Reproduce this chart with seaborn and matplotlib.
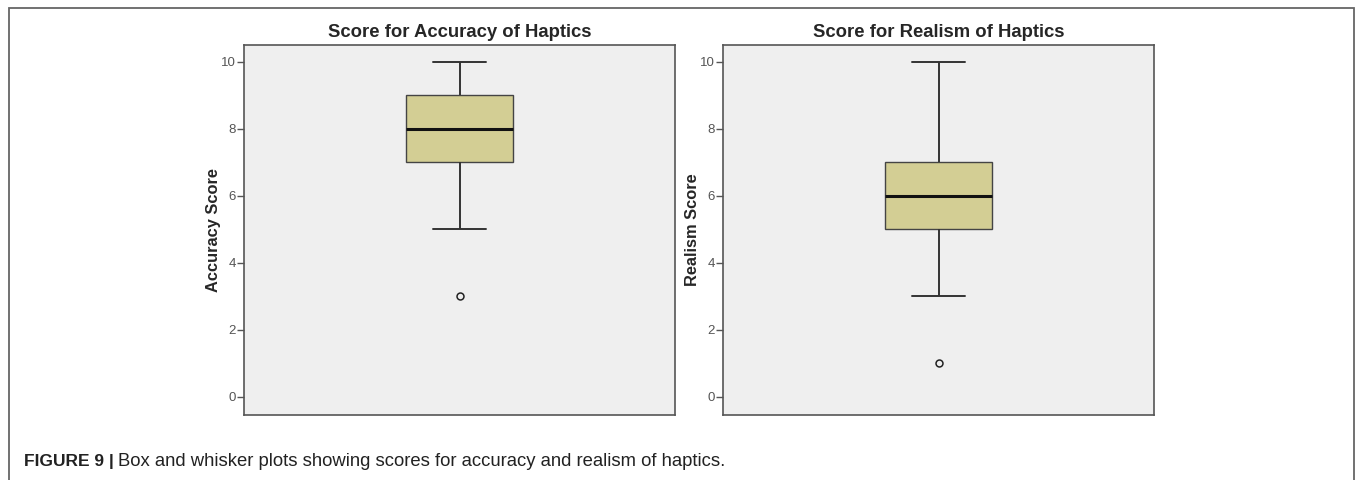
import matplotlib.pyplot as plt
import matplotlib.patches as mpatches
import seaborn as sns
import pandas as pd

# Individual scores (chosen so the box statistics match the figure)
accuracy_scores = [3, 5, 6, 7, 7, 7, 8, 8, 8, 8, 9, 9, 9, 10, 10]
realism_scores = [1, 3, 4, 5, 5, 5, 6, 6, 6, 6, 7, 7, 7, 8, 10]

titles = ["Score for Accuracy of Haptics", "Score for Realism of Haptics"]
ylabels = ["Accuracy Score", "Realism Score"]
yticks = [0, 2, 4, 6, 8, 10]

sns.set_style("white")
plt.rcParams['font.family'] = ['Liberation Sans', 'DejaVu Sans']

W, H = 1355, 480
fig = plt.figure(figsize=(13.55, 4.8), dpi=100)

# outer frame around the figure panel
frame = mpatches.Rectangle((9 / W, -0.2), (1354 - 9) / W, 1.2 - 8 / H,
                           transform=fig.transFigure, fill=False,
                           edgecolor='#666666', linewidth=1.3, clip_on=False)
fig.patches.append(frame)

positions = [244, 723]
datasets = [accuracy_scores, realism_scores]

for left_px, scores, title, ylab in zip(positions, datasets, titles, ylabels):
    ax = fig.add_axes([left_px / W, 1 - 415 / H, 431 / W, 370 / H])
    df = pd.DataFrame({'score': scores})
    sns.boxplot(data=df, y='score', ax=ax, width=0.25, whis=1.5,
                color='#D3CE94', linecolor='#333333', linewidth=1.4,
                fliersize=5,
                flierprops=dict(marker='o', markerfacecolor='none',
                                markeredgecolor='#222222', markeredgewidth=1.1),
                medianprops=dict(color='#111111', linewidth=2.2),
                boxprops=dict(edgecolor='#444444', linewidth=1.0),
                saturation=1)
    ax.set_facecolor('#EFEFEF')
    ax.set_ylim(-0.55, 10.5)
    ax.set_xlim(-0.5, 0.5)
    ax.set_yticks(yticks)
    ax.set_xticks([])
    ax.set_xlabel("")
    ax.set_ylabel(ylab, fontsize=11.8, fontweight='bold', labelpad=0)
    ax.set_title(title, fontsize=13.3, fontweight='bold', pad=6)
    ax.tick_params(axis='y', left=True, length=5, width=1, color='#555555',
                   labelsize=9.5, labelcolor='#555555', pad=1)
    for sp in ax.spines.values():
        sp.set_color('#555555')
        sp.set_linewidth(1.2)

# caption: bold label, then the regular text right after it
lab = fig.text(24 / W, 1 - 466 / H, "FIGURE 9 |", fontsize=12.5,
               fontweight='bold', va='baseline', ha='left', color='#222222')
fig.canvas.draw()
bb = lab.get_window_extent(renderer=fig.canvas.get_renderer())
fig.text((bb.x1 + 4) / W, 1 - 466 / H,
         "Box and whisker plots showing scores for accuracy and realism of haptics.",
         fontsize=13.3, va='baseline', ha='left', color='#222222')

plt.savefig('out.png', dpi=100)
